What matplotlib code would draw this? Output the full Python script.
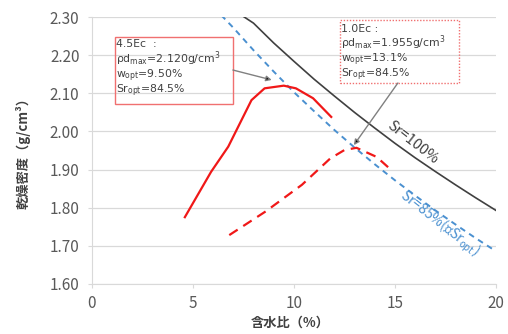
import matplotlib
matplotlib.use('Agg')
import matplotlib.pyplot as plt
from matplotlib.patches import Rectangle

plt.rcParams['font.family'] = ['Noto Sans CJK JP', 'DejaVu Sans']
plt.rcParams['mathtext.fontset'] = 'dejavusans'
plt.rcParams['mathtext.default'] = 'regular'

# 締固め曲線 4.5Ec
w_45 = [4.6, 5.9, 6.75, 7.9, 8.55, 9.5, 10.1, 10.95, 11.85]
rd_45 = [1.775, 1.894, 1.960, 2.082, 2.113, 2.120, 2.113, 2.087, 2.038]

# 締固め曲線 1.0Ec
w_10 = [6.8, 8.6, 10.4, 11.8, 12.5, 13.1, 14.1, 14.9]
rd_10 = [1.728, 1.790, 1.860, 1.929, 1.951, 1.957, 1.933, 1.895]

# Sr=100% 曲線（読み取り値）
w_sr100 = [7.4, 8, 9, 10, 11, 12, 13, 14, 15, 16, 17, 18, 19, 20]
rd_sr100 = [2.305, 2.284, 2.232, 2.184, 2.137, 2.093, 2.050, 2.009, 1.969,
            1.931, 1.895, 1.860, 1.826, 1.793]

# Sr=85% 曲線（読み取り値）
w_sr85 = [6.4, 7, 8, 9, 10, 11, 12, 13, 14, 15, 16, 17, 18, 19, 20]
rd_sr85 = [2.305, 2.272, 2.213, 2.157, 2.103, 2.053, 2.004, 1.958, 1.914,
           1.872, 1.832, 1.793, 1.756, 1.720, 1.686]

xticks = [0, 5, 10, 15, 20]
yticks = [1.60, 1.70, 1.80, 1.90, 2.00, 2.10, 2.20, 2.30]

txt_45 = ['4.5Ec  :', r'$\rho$d$_{max}$=2.120g/cm$^3$', r'w$_{opt}$=9.50%', r'Sr$_{opt}$=84.5%']
txt_10 = ['1.0Ec :', r'$\rho$d$_{max}$=1.955g/cm$^3$', r'w$_{opt}$=13.1%', r'Sr$_{opt}$=84.5%']

grey = '#595959'
dark = '#404040'

fig = plt.figure(figsize=(5.08, 3.34), dpi=100)
ax = fig.add_axes([0.181, 0.150, 0.795, 0.799])

ax.plot(w_sr100, rd_sr100, color=dark, lw=1.2, zorder=3)
ax.plot(w_sr85, rd_sr85, color='#4a90d0', lw=1.4, ls=(0, (3, 2.5)), zorder=3)
ax.plot(w_45, rd_45, color='#f01818', lw=1.6, zorder=4)
ax.plot(w_10, rd_10, color='#f01818', lw=1.6, ls=(0, (4.5, 3)), zorder=4)

ax.set_xlim(0, 20)
ax.set_ylim(1.60, 2.30)
ax.set_xticks(xticks)
ax.set_yticks(yticks)
ax.set_yticklabels([f'{v:.2f}' for v in yticks])
ax.tick_params(colors=grey, labelsize=11, length=3, width=0.8)
ax.tick_params(axis='both', color='#d9d9d9')
ax.tick_params(axis='x', pad=5)
ax.tick_params(axis='y', pad=6)
ax.grid(axis='y', color='#d9d9d9', lw=0.9)
ax.set_axisbelow(True)
for s in ['top', 'right']:
    ax.spines[s].set_visible(False)
for s in ['left', 'bottom']:
    ax.spines[s].set_color('#d9d9d9')

ax.set_xlabel('含水比（%）', fontsize=9.5, color=dark, fontweight='bold')
ax.set_ylabel('乾燥密度（g/cm³）', fontsize=9.5, color=dark, fontweight='bold')
ax.xaxis.set_label_coords(0.49, -0.118)
ax.yaxis.set_label_coords(-0.153, 0.5)

# 注記ボックス
ax.add_patch(Rectangle((1.14, 2.072), 5.84, 0.176, fill=False, ec='#f07070', lw=1.0, zorder=5))
ax.add_patch(Rectangle((12.28, 2.127), 5.89, 0.165, fill=False, ec='#f07070', lw=1.0,
                       ls=(0, (1, 1.2)), zorder=5))
for i, t in enumerate(txt_45):
    ax.text(1.2, 2.221 - i * 0.0405, t, fontsize=7.8, color=dark, va='baseline',
            family='DejaVu Sans', zorder=6)
for i, t in enumerate(txt_10):
    ax.text(12.35, 2.262 - i * 0.0402, t, fontsize=7.8, color=dark, va='baseline',
            family='DejaVu Sans', zorder=6)

ax.annotate('', xy=(8.9, 2.135), xytext=(6.98, 2.161),
            arrowprops=dict(arrowstyle='-|>', ec='#808080', fc='black', lw=1.0,
                            mutation_scale=8, shrinkA=0, shrinkB=0), zorder=6)
ax.annotate('', xy=(12.97, 1.964), xytext=(15.15, 2.127),
            arrowprops=dict(arrowstyle='-|>', ec='#808080', fc='black', lw=1.0,
                            mutation_scale=8, shrinkA=0, shrinkB=0), zorder=6)

ax.text(15.9, 1.97, 'Sr=100%', fontsize=10.5, color=dark, rotation=-38,
        ha='center', va='center')
ax.text(17.2, 1.757, r'Sr=85%(≒Sr$_{opt}$)', fontsize=10, color='#4a90d0', rotation=-38,
        ha='center', va='center')

fig.savefig('out.png', dpi=100)
